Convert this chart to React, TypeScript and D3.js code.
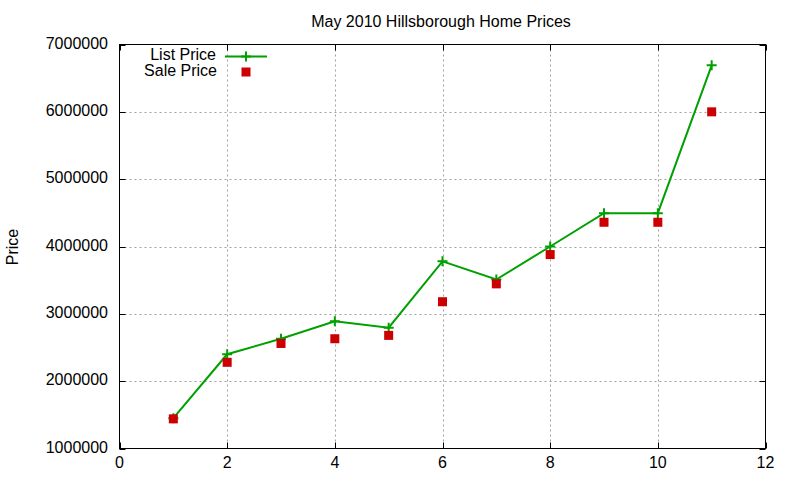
import React from "react";
import * as d3 from "d3";

const title = "May 2010 Hillsborough Home Prices";
const xValues = [1, 2, 3, 4, 5, 6, 7, 8, 9, 10, 11];
const listPrice = [1450000, 2400000, 2630000, 2890000, 2795000, 3780000, 3510000, 4000000, 4495000, 4495000, 6690000];
const salePrice = [1440000, 2280000, 2560000, 2630000, 2680000, 3180000, 3445000, 3880000, 4360000, 4360000, 6000000];
const xTicks = [0, 2, 4, 6, 8, 10, 12];
const yTicks = [1000000, 2000000, 3000000, 4000000, 5000000, 6000000, 7000000];

export default function App() {
  const W = 800, H = 480;
  const left = 119.5, right = 765.5, top = 44.5, bottom = 448.5;
  const x = d3.scaleLinear().domain([0, 12]).range([left, right]);
  const y = d3.scaleLinear().domain([1000000, 7000000]).range([bottom, top]);
  const line = d3.line<number>().x((_, i) => x(xValues[i])).y((d) => y(d));
  const font = "'Liberation Sans', Arial, sans-serif";
  const green = "#00a000";
  const red = "#cc0000";
  const fs = 16;
  return (
    <svg width={W} height={H} style={{ position: "absolute", left: 0, top: 0, background: "#fff" }} fontFamily={font}>
      <rect x={0} y={0} width={W} height={H} fill="#fff" />
      {/* grid */}
      {xTicks.slice(1, -1).map((t) => (
        <line key={"gx" + t} x1={Math.round(x(t)) + 0.5} x2={Math.round(x(t)) + 0.5} y1={top} y2={bottom} stroke="#a0a0a0" strokeWidth={1} strokeDasharray="2,3" />
      ))}
      {yTicks.slice(1, -1).map((t) => (
        <line key={"gy" + t} x1={left} x2={right} y1={Math.round(y(t)) + 0.5} y2={Math.round(y(t)) + 0.5} stroke="#a0a0a0" strokeWidth={1} strokeDasharray="2,3" />
      ))}
      {/* ticks */}
      {xTicks.map((t) => (
        <g key={"tx" + t}>
          <line x1={Math.round(x(t)) + 0.5} x2={Math.round(x(t)) + 0.5} y1={bottom} y2={bottom - 6} stroke="#000" />
          <line x1={Math.round(x(t)) + 0.5} x2={Math.round(x(t)) + 0.5} y1={top} y2={top + 6} stroke="#000" />
          <text x={x(t)} y={468} textAnchor="middle" fontSize={fs} fill="#000">{t}</text>
        </g>
      ))}
      {yTicks.map((t) => (
        <g key={"ty" + t}>
          <line x1={left} x2={left + 6} y1={Math.round(y(t)) + 0.5} y2={Math.round(y(t)) + 0.5} stroke="#000" />
          <line x1={right} x2={right - 6} y1={Math.round(y(t)) + 0.5} y2={Math.round(y(t)) + 0.5} stroke="#000" />
          <text x={108} y={y(t) + 4} textAnchor="end" fontSize={fs} fill="#000">{t}</text>
        </g>
      ))}
      <rect x={left} y={top} width={right - left} height={bottom - top} fill="none" stroke="#000" strokeWidth={1} />
      {/* title & labels */}
      <text x={441} y={27} textAnchor="middle" fontSize={fs} fill="#000">{title}</text>
      <text transform="translate(18,247) rotate(-90)" textAnchor="middle" fontSize={fs} fill="#000">Price</text>
      {/* list price line */}
      <path d={line(listPrice) || ""} fill="none" stroke={green} strokeWidth={2} />
      {listPrice.map((v, i) => (
        <path key={"lp" + i} d={`M${x(xValues[i]) - 5},${y(v)}h10M${x(xValues[i])},${y(v) - 5}v10`} stroke={green} strokeWidth={2} />
      ))}
      {salePrice.map((v, i) => (
        <rect key={"sp" + i} x={x(xValues[i]) - 4.5} y={y(v) - 4.5} width={9} height={9} fill={red} />
      ))}
      {/* legend */}
      <text x={216} y={60} textAnchor="end" fontSize={fs} fill="#000">List Price</text>
      <line x1={225} x2={267} y1={56.5} y2={56.5} stroke={green} strokeWidth={2} />
      <path d="M246,51.5v10M241,56.5h10" stroke={green} strokeWidth={2} />
      <text x={217} y={76} textAnchor="end" fontSize={fs} fill="#000">Sale Price</text>
      <rect x={241.5} y={67.5} width={9} height={9} fill={red} />
    </svg>
  );
}
